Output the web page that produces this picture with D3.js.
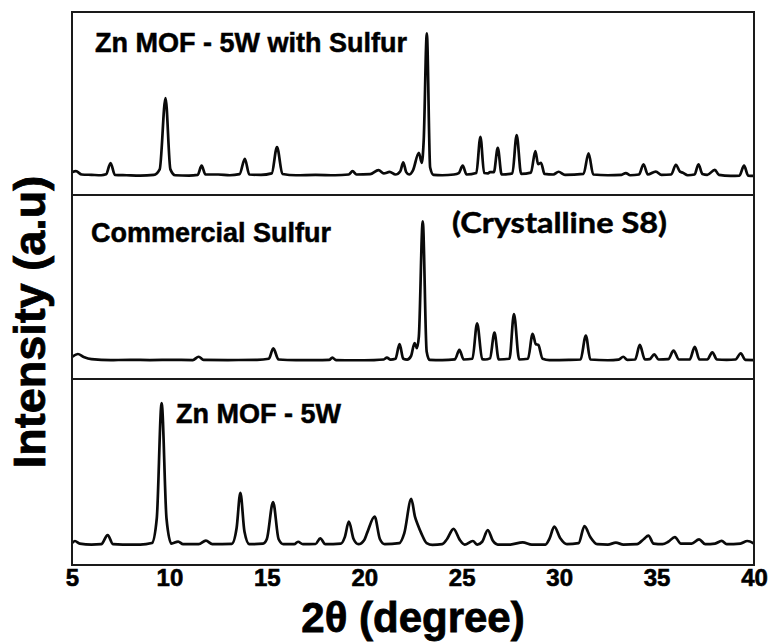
<!DOCTYPE html>
<html>
<head>
<meta charset="utf-8">
<script src="https://cdn.jsdelivr.net/npm/d3@7"></script>
<style>
  html, body { margin: 0; padding: 0; background: #fff; }
  svg { display: block; }
</style>
</head>
<body>
<svg id="chart" width="769" height="642"></svg>
<script>
// XRD patterns, [2θ (degree), intensity (a.u.)]
const zmofSulfur = [
  [5.0,125],[5.2,130],[5.5,112],[6.0,110],[6.5,108],[6.75,113],[6.98,175],[7.2,110],[7.8,108],
  [8.5,106],[9.2,110],[9.5,140],[9.8,530],[10.05,140],[10.3,108],[11.0,106],[11.45,110],[11.65,160],
  [11.85,112],[12.5,112],[13.1,108],[13.6,114],[13.87,197],[14.1,112],[14.7,110],[15.25,118],[15.52,262],
  [15.8,115],[16.5,108],[17.5,110],[18.5,108],[19.2,112],[19.4,130],[19.6,112],[20.3,114],[20.73,136],
  [21.0,118],[21.3,126],[21.6,112],[21.85,130],[22.0,178],[22.15,125],[22.3,112],[22.5,135],[22.8,231],
  [22.95,176],[23.05,300],[23.21,884],[23.38,150],[23.55,110],[24.0,108],[24.6,112],[24.85,120],[25.05,160],
  [25.25,112],[25.75,120],[25.96,318],[26.15,120],[26.35,118],[26.45,125],[26.65,125],[26.85,258],[27.05,112],
  [27.6,118],[27.82,328],[28.05,115],[28.55,122],[28.78,240],[28.92,168],[29.07,176],[29.25,115],[29.7,112],
  [29.97,127],[30.3,110],[31.25,115],[31.51,228],[31.75,112],[32.5,108],[33.2,110],[33.42,120],[33.65,108],
  [34.1,112],[34.33,168],[34.55,112],[34.96,128],[35.25,110],[35.75,112],[35.99,165],[36.2,128],[36.35,122],
  [36.6,108],[36.95,112],[37.15,168],[37.35,115],[37.6,110],[37.99,137],[38.2,110],[38.8,105],[39.25,106],
  [39.49,160],[39.7,106],[40.0,104]
];

const commercialSulfur = [
  [5.0,120],[5.3,136],[5.6,120],[6.0,108],[7.0,103],[8.0,104],[9.0,103],[10.0,104],[11.2,103],[11.5,121],
  [11.75,104],[13.0,103],[14.5,104],[15.1,110],[15.33,166],[15.6,106],[16.5,103],[17.5,103],[18.2,104],
  [18.36,116],[18.55,103],[19.5,102],[20.5,103],[21.0,106],[21.16,116],[21.35,105],[21.6,110],[21.81,190],
  [22.0,110],[22.2,105],[22.4,125],[22.58,195],[22.7,168],[22.8,230],[23.0,857],[23.2,150],[23.35,104],
  [24.0,103],[24.65,107],[24.88,158],[25.1,106],[25.55,110],[25.79,303],[26.05,108],[26.2,106],[26.45,112],
  [26.68,252],[26.9,106],[27.45,110],[27.68,353],[27.95,106],[28.4,110],[28.64,245],[28.8,190],[28.93,185],
  [29.15,110],[29.5,103],[30.5,104],[31.1,106],[31.37,236],[31.6,106],[32.5,102],[33.05,105],[33.29,121],
  [33.5,104],[33.9,106],[34.14,185],[34.4,106],[34.65,108],[34.88,134],[35.1,106],[35.6,108],[35.87,154],
  [36.15,106],[36.7,106],[36.96,175],[37.2,106],[37.6,106],[37.86,145],[38.1,106],[38.6,104],[39.05,106],
  [39.32,140],[39.55,104],[40.0,103]
];

const zmof = [
  [5.0,118],[5.15,129],[5.4,115],[6.0,110],[6.5,112],[6.83,161],[7.1,112],[7.6,110],[8.5,110],[9.1,118],
  [9.35,250],[9.6,870],[9.85,250],[10.1,115],[10.45,126],[10.7,112],[11.5,112],[11.87,131],[12.2,112],
  [13.2,114],[13.45,200],[13.64,388],[13.85,180],[14.1,112],[14.8,115],[15.0,140],[15.32,338],[15.6,140],
  [15.85,112],[16.4,112],[16.6,125],[16.85,112],[17.5,113],[17.74,143],[18.0,112],[18.8,115],[19.0,150],
  [19.21,233],[19.45,140],[19.7,112],[20.0,135],[20.15,174],[20.53,260],[20.8,140],[21.05,112],[21.8,118],
  [22.05,170],[22.41,355],[22.6,260],[22.75,215],[22.95,165],[23.2,118],[23.5,108],[24.0,112],[24.25,140],
  [24.58,194],[24.9,135],[25.15,110],[25.57,129],[25.8,110],[26.05,125],[26.34,188],[26.6,130],[26.85,110],
  [27.5,110],[28.13,122],[28.6,110],[29.3,110],[29.5,140],[29.75,206],[30.05,145],[30.4,112],[31.0,118],
  [31.3,209],[31.6,150],[31.95,112],[32.5,110],[32.91,120],[33.3,110],[34.0,112],[34.35,140],[34.58,158],
  [34.85,115],[35.3,112],[35.6,125],[35.94,150],[36.25,115],[36.8,115],[37.18,138],[37.5,112],[38.0,115],
  [38.34,130],[38.6,112],[39.3,115],[39.66,129],[40.0,115]
];

const xTicks = [5, 10, 15, 20, 25, 30, 35, 40];
const panelSeries = [zmofSulfur, commercialSulfur, zmof];
const panelLabels = ["Zn MOF - 5W with Sulfur", "Commercial Sulfur", "Zn MOF - 5W"];
const noteLabel = "(Crystalline S8)";
const xTitle = "2θ (degree)";
const yTitle = "Intensity (a.u)";

// layout
const left = 72, right = 754;
const panelEdges = [12, 195, 379, 565];
const svg = d3.select("#chart");
const sans = "'Liberation Sans', Arial, sans-serif";

const x = d3.scaleLinear().domain([5, 40]).range([left, right]);

const line = d3.line().curve(d3.curveMonotoneX);

panelSeries.forEach((series, i) => {
  const top = panelEdges[i], bottom = panelEdges[i + 1];
  const y = d3.scaleLinear().domain([0, 1000]).range([bottom, top]);
  line.x(d => x(d[0])).y(d => y(d[1]));
  svg.append("clipPath").attr("id", "clip" + i)
    .append("rect").attr("x", left).attr("y", top).attr("width", right - left).attr("height", bottom - top);
  svg.append("path")
    .datum(series)
    .attr("clip-path", `url(#clip${i})`)
    .attr("d", line)
    .attr("fill", "none")
    .attr("stroke", "#0a0a0a")
    .attr("stroke-width", 2.7)
    .attr("stroke-linejoin", "round");
});

// frame and panel dividers
svg.append("rect")
  .attr("x", left).attr("y", panelEdges[0])
  .attr("width", right - left).attr("height", panelEdges[3] - panelEdges[0])
  .attr("fill", "none").attr("stroke", "#1a1a1a").attr("stroke-width", 2);
[panelEdges[1], panelEdges[2]].forEach(yy => {
  svg.append("line").attr("x1", left).attr("x2", right).attr("y1", yy).attr("y2", yy)
    .attr("stroke", "#1a1a1a").attr("stroke-width", 2);
});

// x axis labels
const axis = svg.append("g")
  .attr("transform", `translate(0,${panelEdges[3]})`)
  .call(d3.axisBottom(x).tickValues(xTicks).tickSize(0).tickPadding(4).tickFormat(d3.format("d")));
axis.select(".domain").remove();
axis.selectAll("text")
  .attr("fill", "#000")
  .attr("stroke", "#000").attr("stroke-width", 0.6)
  .style("font-family", sans)
  .style("font-weight", "bold")
  .style("font-size", "24px");

// axis titles
svg.append("text")
  .attr("x", (left + right) / 2).attr("y", 632)
  .attr("text-anchor", "middle")
  .attr("stroke", "#000").attr("stroke-width", 0.8)
  .style("font-family", sans)
  .style("font-weight", "bold").style("font-size", "42px")
  .text(xTitle);

svg.append("text")
  .attr("transform", "translate(45,322) rotate(-90)")
  .attr("text-anchor", "middle")
  .attr("stroke", "#000").attr("stroke-width", 0.8)
  .style("font-family", sans)
  .style("font-weight", "bold").style("font-size", "45px")
  .text(yTitle);

// panel labels
const labelPos = [[95, 52], [91, 242], [176, 423]];
panelLabels.forEach((t, i) => {
  svg.append("text")
    .attr("x", labelPos[i][0]).attr("y", labelPos[i][1])
    .attr("stroke", "#000").attr("stroke-width", 0.5)
    .style("font-family", sans)
    .style("font-weight", "bold").style("font-size", "27px")
    .text(t);
});

svg.append("text")
  .attr("x", 452).attr("y", 233)
  .attr("textLength", 215).attr("lengthAdjust", "spacingAndGlyphs")
  .attr("stroke", "#000").attr("stroke-width", 0.5)
  .style("font-family", "Lato, 'Open Sans', sans-serif")
  .style("font-weight", "bold").style("font-size", "29px")
  .text(noteLabel);
</script>
</body>
</html>
